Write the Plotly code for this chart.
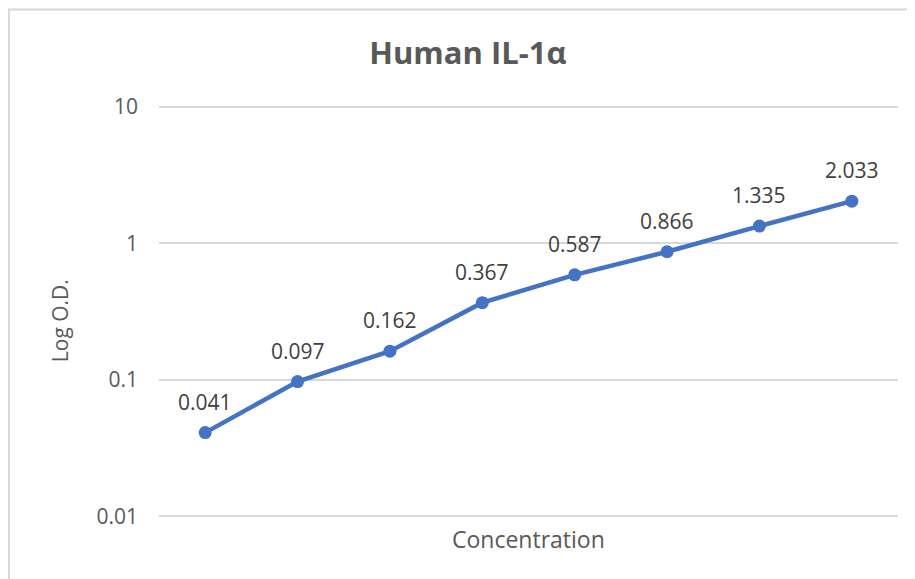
import math
import plotly.graph_objects as go

categories = ["1", "2", "3", "4", "5", "6", "7", "8"]
od_values = [0.041, 0.097, 0.162, 0.367, 0.587, 0.866, 1.335, 2.033]
label_text = ["0.041", "0.097", "0.162", "0.367", "0.587", "0.866", "1.335", "2.033"]
y_tick_vals = [0.01, 0.1, 1, 10]
y_tick_text = ["0.01", "0.1", "1", "10"]

FONT = "Open Sans, Liberation Sans, sans-serif"
GRAY = "#595959"

fig = go.Figure()
fig.add_trace(go.Scatter(
    x=categories, y=od_values, mode="lines+markers",
    line=dict(color="#4472C4", width=4.5),
    marker=dict(color="#4472C4", size=13),
    cliponaxis=False, showlegend=False,
))

annotations = [
    dict(x=i, y=math.log10(v), text=t, xref="x", yref="y", showarrow=False,
         xanchor="center", yanchor="middle", yshift=31,
         font=dict(family=FONT, size=21, color="#404040"))
    for i, (v, t) in enumerate(zip(od_values, label_text))
]
annotations += [
    dict(text="Concentration", xref="paper", yref="paper", x=0.5, y=-0.049,
         xanchor="center", yanchor="middle", showarrow=False,
         font=dict(family=FONT, size=23, color=GRAY)),
    dict(text="Log O.D.", xref="paper", yref="paper", x=-0.134, y=0.479,
         xanchor="center", yanchor="middle", showarrow=False, textangle=-90,
         font=dict(family=FONT, size=21, color=GRAY)),
]

fig.update_layout(
    width=907, height=571,
    margin=dict(l=151, r=17, t=96, b=60),
    paper_bgcolor="white", plot_bgcolor="white",
    title=dict(text="<b>Human IL-1α</b>", x=0.507, xanchor="center", y=0.921, yanchor="middle",
               font=dict(family=FONT, size=31, color=GRAY)),
    xaxis=dict(type="category", showticklabels=False, showgrid=False, zeroline=False,
               showline=False, range=[-0.5, 7.5], fixedrange=True),
    yaxis=dict(type="log", range=[-2.02, 1.02], tickvals=y_tick_vals, ticktext=y_tick_text,
               showgrid=True, gridcolor="#d9d9d9", gridwidth=1.5, zeroline=False, showline=False,
               ticks="", ticklabelstandoff=20,
               tickfont=dict(family=FONT, size=21, color=GRAY)),
    annotations=annotations,
    shapes=[
        dict(type="rect", xref="paper", yref="paper", x0=-0.2030, x1=1.2, y0=-0.3, y1=1.228,
             line=dict(color="#d9d9d9", width=2), fillcolor="rgba(0,0,0,0)", layer="below"),
    ],
)

fig.write_html("out.html")
